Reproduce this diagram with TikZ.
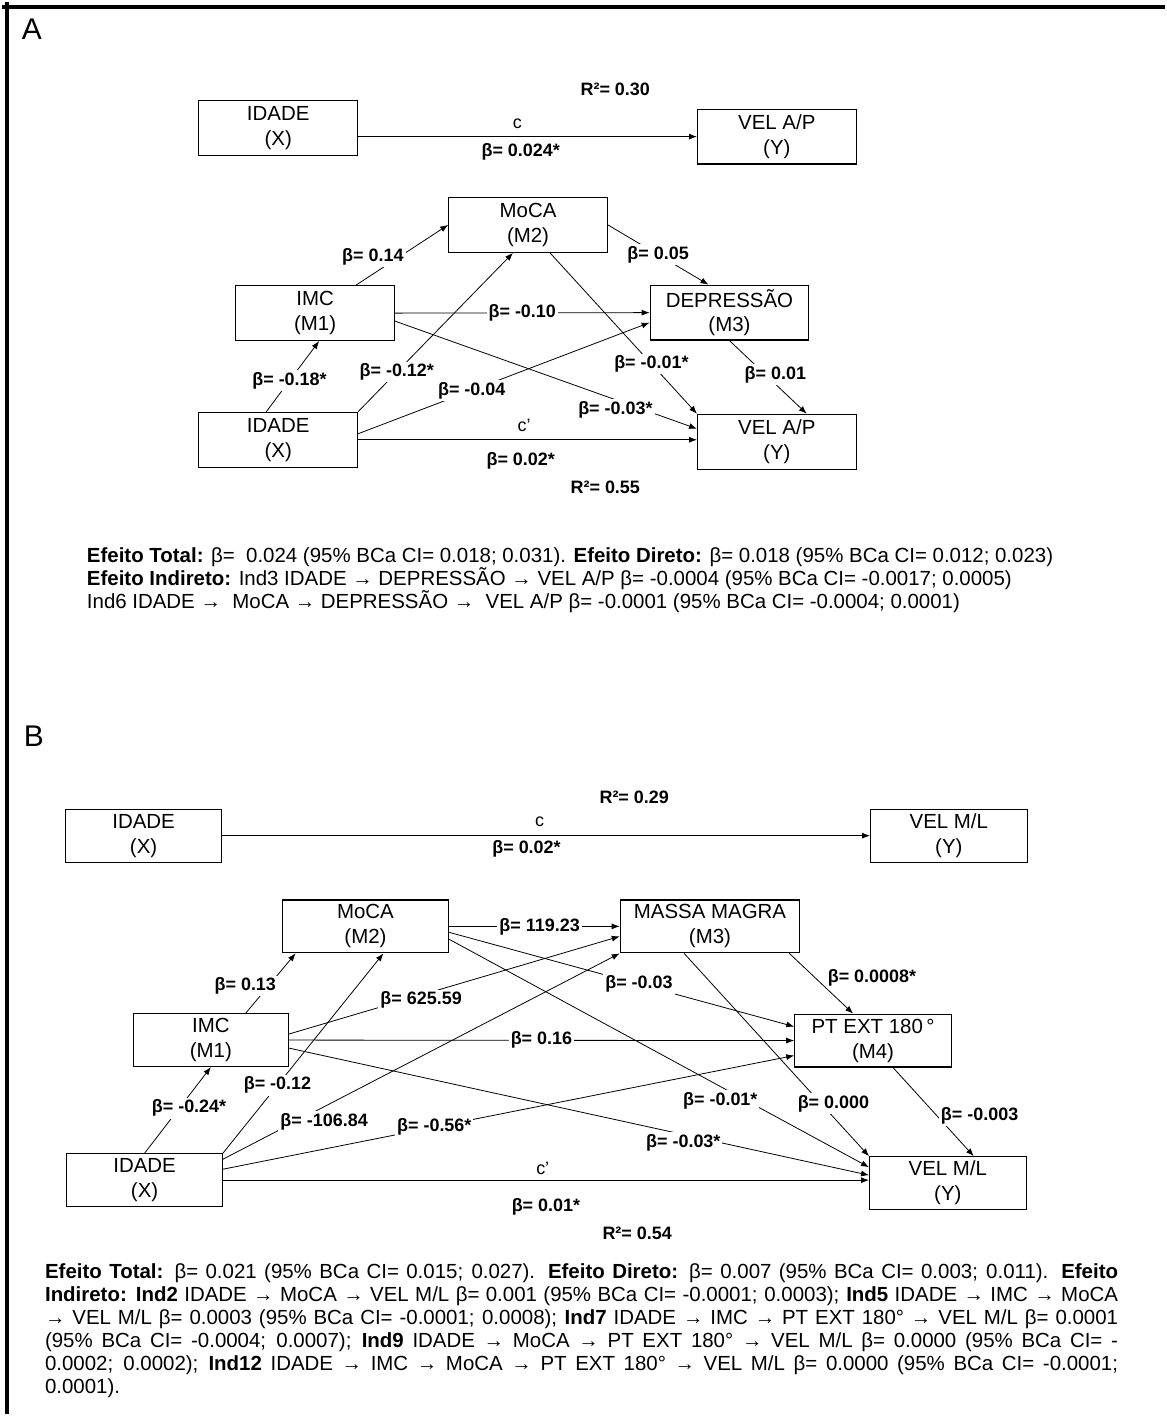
\documentclass[tikz,border=0pt]{standalone}
\usepackage{fontspec}
\setmainfont{Liberation Sans}
\usepackage{tikz}
\usetikzlibrary{arrows.meta,positioning}
\tikzset{
  var/.style  ={draw, line width=1.1pt, align=center, inner sep=0pt,
                minimum width=159pt, minimum height=55pt,
                font=\fontsize{20.5}{25}\selectfont},
  lbl/.style  ={fill=white, inner sep=2pt, font=\fontsize{18}{20}\selectfont\bfseries},
  cnote/.style={inner sep=1pt, font=\fontsize{18}{20}\selectfont},
  panel/.style={inner sep=0pt, font=\fontsize{30}{34}\selectfont},
  note/.style ={inner sep=0pt, align=left, font=\fontsize{20.5}{23}\selectfont},
  arrow/.style={-{Latex[length=8pt,width=6pt]}, line width=0.8pt},
}
\newcommand{\jl}[1]{\makebox[1076pt][s]{#1}}

\begin{document}
\begin{tikzpicture}[x=1pt,y=-1pt]
        \fill[white] (0,0) rectangle (1166,1416);
        \draw[line width=4pt] (0,5) -- (1166,5);
        \draw[line width=4pt] (5,0) -- (5,1416);

        % painel A
        \node[panel] (pa) at (30,27) {A};
        \node[var] (xt) at (277,126) {IDADE\\(X)};
        \node[var] (yt) at (777,135) {VEL A/P\\(Y)};
        \node[lbl] (r2t) at (615,88) {R²= 0.30};
        \draw[arrow] ([yshift=-9pt]xt.east) -- (yt.west)
          node[cnote,pos=.47,yshift=13pt]{c} node[lbl,pos=.48,yshift=-15pt]{β= 0.024*};

        \node[var] (m2a) at (527.5,223.5) {MoCA\\(M2)};
        \node[var] (m1a) at (314,312) {IMC\\(M1)};
        \node[var] (m3a) at (729.5,311.5) {DEPRESSÃO\\(M3)};
        \node[var] (xa) at (277,439) {IDADE\\(X)};
        \node[var] (ya) at (777,441) {VEL A/P\\(Y)};
        \draw[arrow] ([xshift=-12pt]xa.north) -- ([xshift=4pt]m1a.south) node[lbl,pos=.44]{β= -0.18*};
        \draw[arrow] ([xshift=41pt]m1a.north) -- (m2a.west) node[lbl,pos=.27,xshift=-8pt,yshift=12pt]{β= 0.14};
        \draw[arrow] (m2a.east) -- ([xshift=-21pt]m3a.north) node[lbl,pos=.5]{β= 0.05};
        \draw[arrow] (m1a.east) -- (m3a.west) node[lbl,pos=.5]{β= -0.10};
        \draw[arrow] (xa.north east) -- ([xshift=-15pt]m2a.south) node[lbl,pos=.25]{β= -0.12*};
        \draw[arrow] ([yshift=6pt]xa.east) -- ([yshift=-10pt]m3a.west) node[lbl,pos=.39]{β= -0.04};
        \draw[arrow] ([yshift=-8pt]m1a.east) -- ([yshift=13pt]ya.west) node[lbl,pos=.73,yshift=-10pt]{β= -0.03*};
        \draw[arrow] ([xshift=22pt]m2a.south) -- (ya.north west) node[lbl,pos=.69]{β= -0.01*};
        \draw[arrow] (m3a.south) -- ([xshift=30pt]ya.north) node[lbl,pos=.53,xshift=5pt,yshift=5pt]{β= 0.01};
        \draw[arrow] (xa.east) -- (xa.east -| ya.west)
          node[cnote,pos=.49,yshift=14pt]{c'} node[lbl,pos=.48,yshift=-21pt]{β= 0.02*};
        \node[lbl] (r2a) at (605,487) {R²= 0.55};

        \node[note,anchor=north west] (txta) at (85,547) {%
          \textbf{Efeito Total:} β= \ 0.024 (95\% BCa CI= 0.018; 0.031). \textbf{Efeito Direto:} β= 0.018 (95\% BCa CI= 0.012; 0.023)\\
          \textbf{Efeito Indireto:} Ind3 IDADE → DEPRESSÃO → VEL A/P β= -0.0004 (95\% BCa CI= -0.0017; 0.0005)\\
          Ind6 IDADE → \ MoCA → DEPRESSÃO → \ VEL A/P β= -0.0001 (95\% BCa CI= -0.0004; 0.0001)};

        % painel B
        \node[panel] (pb) at (32,736) {B};
        \node[var,minimum width=156pt,minimum height=53pt] (xb) at (142,836) {IDADE\\(X)};
        \node[var,minimum width=157pt,minimum height=53pt] (yb) at (949.5,836) {VEL M/L\\(Y)};
        \node[lbl] (r2b) at (634,798) {R²= 0.29};
        \draw[arrow] (xb.east) -- (yb.west)
          node[cnote,pos=.49,yshift=14pt]{c} node[lbl,pos=.47,yshift=-13pt]{β= 0.02*};

        \node[var,minimum width=167pt,minimum height=53pt] (m2b) at (364.5,927) {MoCA\\(M2)};
        \node[var,minimum width=180pt,minimum height=53pt] (m3b) at (710,927) {MASSA MAGRA\\(M3)};
        \node[var,minimum width=155pt,minimum height=53pt] (m1b) at (209.5,1041) {IMC\\(M1)};
        \node[var,minimum width=157pt,minimum height=53pt] (m4b) at (873.5,1041.5) {PT EXT 180\,°\\(M4)};
        \node[var,minimum width=156pt,minimum height=53pt] (xb2) at (143,1181.5) {IDADE\\(X)};
        \node[var,minimum width=157pt,minimum height=53pt] (yb2) at (948.5,1184.5) {VEL M/L\\(Y)};
        \draw[arrow] (xb2.north) -- (m1b.south) node[lbl,pos=.58,xshift=6pt,yshift=-5pt]{β= -0.24*};
        \draw[arrow] ([xshift=35pt]m1b.north) -- ([xshift=14pt]m2b.south west) node[lbl,pos=.27,xshift=-14pt,yshift=11pt]{β= 0.13};
        \draw[arrow] ([yshift=6pt]m1b.east) -- ([yshift=-10pt]m3b.west) node[lbl,pos=.4,yshift=-5pt]{β= 625.59};
        \draw[arrow] (m1b.east) -- (m4b.west) node[lbl,pos=.5]{β= 0.16};
        \draw[arrow] ([yshift=-8pt]m1b.east) -- ([yshift=8pt]yb2.west) node[lbl,pos=.68,yshift=-8pt]{β= -0.03*};
        \draw[arrow] (m2b.east) -- (m3b.west) node[lbl,pos=.53]{β= 119.23};
        \draw[arrow] ([yshift=-6pt]m2b.east) -- ([yshift=14pt]m4b.west) node[lbl,pos=.55]{β= -0.03};
        \draw[arrow] ([yshift=-13pt]m2b.east) -- ([yshift=16pt]yb2.west) node[lbl,pos=.66,xshift=-6pt,yshift=-11pt]{β= -0.01*};
        \draw[arrow] ([xshift=-11pt]m3b.south east) -- ([xshift=-20pt]m4b.north) node[lbl,pos=.41,anchor=west,xshift=10pt]{β= 0.0008*};
        \draw[arrow] ([xshift=-26pt]m3b.south) -- (yb2.north west) node[lbl,pos=.77,xshift=7pt,yshift=6pt]{β= 0.000};
        \draw[arrow] ([xshift=20pt]m4b.south) -- ([xshift=26pt]yb2.north) node[lbl,pos=.54,anchor=west,xshift=2pt]{β= -0.003};
        \draw[arrow] (xb2.north east) -- ([xshift=18pt]m2b.south) node[lbl,pos=.34]{β= -0.12};
        \draw[arrow] ([yshift=21pt]xb2.east) -- (m3b.south west) node[lbl,pos=.24,xshift=6pt,yshift=-12pt]{β= -106.84};
        \draw[arrow] ([yshift=11pt]xb2.east) -- ([yshift=-15pt]m4b.west) node[lbl,pos=.37]{β= -0.56*};
        \draw[arrow] (xb2.east) -- (xb2.east -| yb2.west)
          node[cnote,pos=.495,yshift=12pt]{c'} node[lbl,pos=.5,yshift=-27pt]{β= 0.01*};
        \node[lbl] (r2c) at (637,1235) {R²= 0.54};

        \node[note,anchor=north west] (txtb) at (43,1265) {%
          \jl{\textbf{Efeito Total:} β= 0.021 (95\% BCa CI= 0.015; 0.027). \textbf{Efeito Direto:} β= 0.007 (95\% BCa CI= 0.003; 0.011). \textbf{Efeito}}\\
          \jl{\textbf{Indireto: Ind2} IDADE → MoCA → VEL M/L β= 0.001 (95\% BCa CI= -0.0001; 0.0003); \textbf{Ind5} IDADE → IMC → MoCA}\\
          \jl{→ VEL M/L β= 0.0003 (95\% BCa CI= -0.0001; 0.0008); \textbf{Ind7} IDADE → IMC → PT EXT 180° → VEL M/L β= 0.0001}\\
          \jl{(95\% BCa CI= -0.0004; 0.0007); \textbf{Ind9} IDADE → MoCA → PT EXT 180° → VEL M/L β= 0.0000 (95\% BCa CI= -}\\
          \jl{0.0002; 0.0002); \textbf{Ind12} IDADE → IMC → MoCA → PT EXT 180° → VEL M/L β= 0.0000 (95\% BCa CI= -0.0001;}\\
          0.0001).};
\end{tikzpicture}
\end{document}
